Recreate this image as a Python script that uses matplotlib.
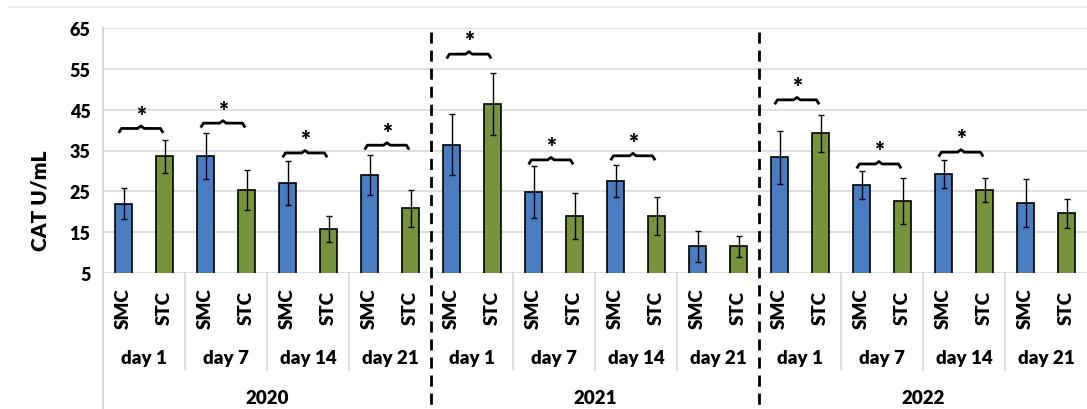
import matplotlib
matplotlib.use("Agg")
import matplotlib.pyplot as plt
import matplotlib.transforms as mtransforms
from matplotlib.lines import Line2D
import numpy as np

plt.rcParams["font.family"] = ["Lato", "DejaVu Sans"]
plt.rcParams["font.weight"] = "bold"

years = ["2020", "2021", "2022"]
days = ["day 1", "day 7", "day 14", "day 21"]
groups = ["SMC", "STC"]

# mean CAT activity (U/mL), per year, per day
smc_mean = [22.0, 33.6, 27.0, 29.0,
            36.4, 24.8, 27.6, 11.5,
            33.3, 26.6, 29.3, 22.1]
smc_err = [3.7, 5.7, 5.4, 4.9,
           7.5, 6.3, 3.9, 3.7,
           6.5, 3.4, 3.4, 5.8]
stc_mean = [33.6, 25.4, 15.8, 20.8,
            46.4, 19.0, 19.0, 11.5,
            39.2, 22.7, 25.3, 19.6]
stc_err = [4.0, 4.9, 3.1, 4.6,
           7.6, 5.6, 4.6, 2.5,
           4.6, 5.6, 3.0, 3.6]
# significance brackets: (group index, bracket height)
sig_pairs = [(0, 40.4), (1, 41.7), (2, 34.4), (3, 36.3),
             (4, 58.6), (5, 32.7), (6, 33.7),
             (8, 47.4), (9, 31.7), (10, 34.6)]

blue = "#4A7CC2"
green = "#77933C"
grid_c = "#D9D9D9"
fw = "heavy"

fig = plt.figure(figsize=(10.87, 4.10), dpi=100)
ax = fig.add_axes([103 / 1087, 1 - 274 / 410, 984 / 1087, 245 / 410])

n = len(smc_mean)
x_smc = np.arange(n) * 2
x_stc = x_smc + 1
ekw = dict(ecolor="black", elinewidth=1, capsize=2.5, capthick=1)
ax.bar(x_smc, smc_mean, width=0.42, color=blue, edgecolor="black",
       linewidth=1.2, yerr=smc_err, error_kw=ekw, zorder=3)
ax.bar(x_stc, stc_mean, width=0.42, color=green, edgecolor="black",
       linewidth=1.2, yerr=stc_err, error_kw=ekw, zorder=3)

ax.set_xlim(-0.5, 2 * n - 0.5)
ax.set_ylim(5, 65)
ax.set_yticks(range(5, 66, 10))
ax.tick_params(axis="y", length=0, labelsize=13, pad=9)
ax.tick_params(axis="x", length=0, labelbottom=False)
for lab in ax.get_yticklabels():
    lab.set_fontweight(fw)
ax.yaxis.grid(True, color=grid_c, lw=1.2, zorder=0)
ax.set_axisbelow(True)
for s in ["top", "right", "bottom", "left"]:
    ax.spines[s].set_visible(False)
ax.set_ylabel("CAT U/mL", fontsize=15, fontweight=fw, labelpad=4)
ax.yaxis.set_label_coords(-0.054, 0.30)

# brackets with asterisks
for g, h in sig_pairs:
    x0 = 2 * g - 0.1
    x1 = 2 * g + 1 - 0.05
    xm = (x0 + x1) / 2
    ax.plot([x0, x0 + 0.05, xm - 0.08, xm, xm + 0.08, x1 - 0.05, x1],
            [h - 0.8, h, h, h + 0.6, h, h, h - 0.8],
            color="black", lw=2, zorder=4, clip_on=False)
    ax.text(xm, h + 0.4, "*", ha="center", va="bottom", fontsize=17,
            fontweight=fw, zorder=4)

# category axis below the plot
tr = mtransforms.blended_transform_factory(ax.transData, ax.transAxes)
for i in range(n):
    for j, name in enumerate(groups):
        ax.text(2 * i + j, -0.14, name, transform=tr, rotation=90,
                ha="center", va="center", fontsize=13.5, fontweight=fw)
    ax.text(2 * i + 0.5, -0.345, days[i % 4], transform=tr, ha="center",
            va="center", fontsize=13.5, fontweight=fw)
for k, yr in enumerate(years):
    ax.text(8 * k + 3.5, -0.51, yr, transform=tr, ha="center", va="center",
            fontsize=13.5, fontweight=fw)

# light separators between days
for i in range(1, n):
    if i % 4 == 0:
        continue
    ax.add_line(Line2D([2 * i - 0.5] * 2, [0, -0.395], transform=tr,
                       color=grid_c, lw=1.2, clip_on=False))
# left frame line
ax.add_line(Line2D([-0.5] * 2, [1, -0.56], transform=tr, color=grid_c,
                   lw=1.5, clip_on=False))
# dashed year dividers
for k in (1, 2):
    ax.add_line(Line2D([8 * k - 0.5] * 2, [0.985, -0.56],
                       transform=tr, color="black", lw=2, ls=(0, (4, 2.5)),
                       clip_on=False, zorder=5))

# faint outer frame line at the top
fig.add_artist(Line2D([10 / 1087, 1], [1 - 8 / 410] * 2, color="#EDEDED",
                      lw=1.5))

fig.savefig("out.png", dpi=100)
